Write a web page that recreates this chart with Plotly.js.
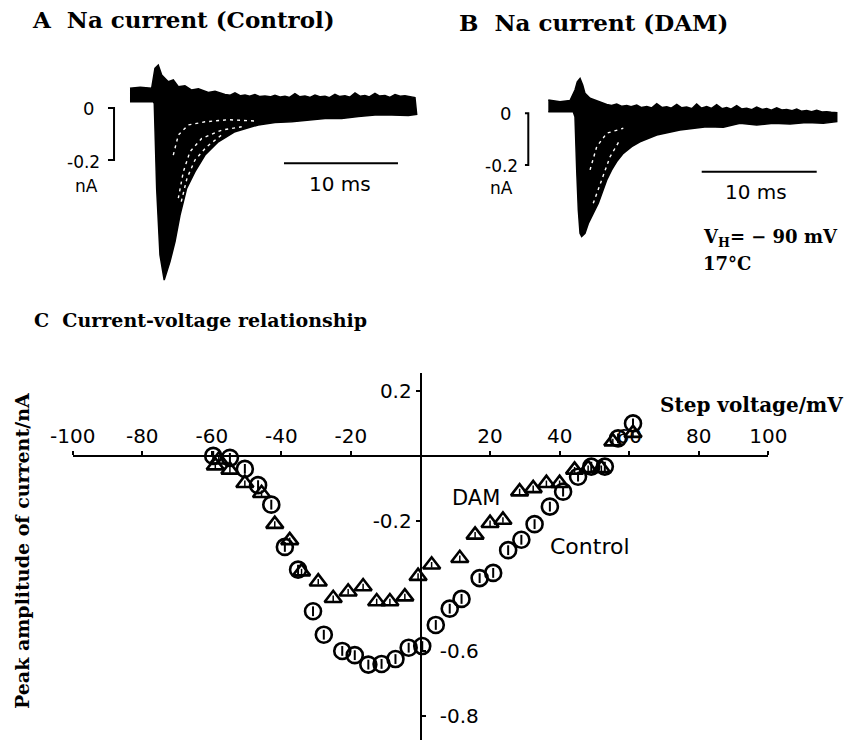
<!DOCTYPE html>
<html>
<head>
<meta charset="utf-8">
<script src="https://cdn.plot.ly/plotly-3.0.1.min.js"></script>
<style>html,body{margin:0;padding:0;background:#fff;}#chart{width:860px;height:740px;}</style>
</head>
<body>
<div id="chart"></div>
<script>
// ---------- Panel A: Na current (Control) — envelope of the trace family (t in ms, I in nA)
const ctrlTopT = [0, 0.9, 1.9, 2.19, 2.48, 2.78, 3.36, 3.80, 4.24, 4.82, 5.41, 6.0, 6.87, 7.46, 8.33, 8.8, 9.21, 9.7, 10.09, 10.5, 10.96, 11.4, 11.84, 12.3, 12.72, 13.2, 13.60, 14.0, 14.47, 14.9, 15.35, 15.8, 16.23, 16.7, 17.11, 17.5, 17.98, 18.4, 18.86, 19.3, 19.74, 20.2, 20.61, 21.0, 21.49, 21.9, 22.37, 22.8, 23.25, 23.7, 24.12, 24.6, 25.0];
const ctrlTopI = [0.076, 0.080, 0.076, 0.153, 0.165, 0.127, 0.101, 0.108, 0.082, 0.086, 0.069, 0.074, 0.060, 0.064, 0.052, 0.049, 0.058, 0.047, 0.050, 0.045, 0.052, 0.044, 0.046, 0.043, 0.049, 0.042, 0.045, 0.041, 0.055, 0.043, 0.046, 0.041, 0.050, 0.043, 0.045, 0.040, 0.053, 0.044, 0.047, 0.042, 0.058, 0.045, 0.048, 0.043, 0.056, 0.046, 0.048, 0.041, 0.052, 0.045, 0.047, 0.042, 0.040];
const ctrlBotT = [0, 2.04, 2.13, 2.34, 2.63, 3.0, 3.51, 3.95, 4.39, 4.97, 5.70, 6.58, 7.75, 9.21, 11.25, 12.72, 14.18, 15.64, 17.11, 18.57, 20.03, 21.49, 22.96, 24.42, 25.15];
const ctrlBotI = [0.024, 0.024, 0.018, -0.309, -0.565, -0.662, -0.591, -0.514, -0.412, -0.309, -0.245, -0.181, -0.130, -0.091, -0.065, -0.056, -0.053, -0.047, -0.040, -0.040, -0.033, -0.027, -0.027, -0.029, -0.024];
// white gaps between individual traces
const ctrlGap1T = [4.24, 4.68, 5.26, 6.29, 8.04, 9.80];
const ctrlGap1I = [-0.347, -0.245, -0.168, -0.117, -0.085, -0.072];
const ctrlGap2T = [3.80, 4.24, 5.11, 6.58, 8.62, 11.0];
const ctrlGap2I = [-0.181, -0.104, -0.065, -0.053, -0.045, -0.050];
const ctrlGap3T = [4.5, 5.0, 5.7, 6.7, 8.0];
const ctrlGap3I = [-0.36, -0.27, -0.2, -0.15, -0.105];

// ---------- Panel B: Na current (DAM)
const damTopT = [0, 1.02, 1.89, 2.32, 2.52, 2.76, 2.99, 3.19, 3.63, 4.35, 5.08, 5.5, 5.95, 6.4, 6.82, 7.2, 7.69, 8.1, 8.56, 9.0, 9.43, 9.9, 10.30, 10.7, 11.17, 11.6, 12.03, 12.5, 12.90, 13.3, 13.77, 14.2, 14.64, 15.1, 15.51, 15.9, 16.38, 16.8, 17.25, 17.7, 18.12, 18.6, 18.99, 19.4, 19.86, 20.3, 20.73, 21.2, 21.60, 22.0, 22.47, 22.9, 23.34, 23.8, 24.21, 24.6, 25.08];
const damTopI = [0.051, 0.045, 0.049, 0.090, 0.122, 0.135, 0.109, 0.077, 0.058, 0.045, 0.034, 0.030, 0.036, 0.027, 0.030, 0.025, 0.032, 0.022, 0.026, 0.021, 0.037, 0.022, 0.025, 0.020, 0.034, 0.021, 0.024, 0.018, 0.036, 0.020, 0.026, 0.019, 0.033, 0.018, 0.022, 0.016, 0.030, 0.017, 0.019, 0.014, 0.024, 0.015, 0.018, 0.012, 0.021, 0.013, 0.015, 0.010, 0.016, 0.008, 0.011, 0.006, 0.012, 0.005, 0.006, 0.004, 0.002];
const damBotT = [0, 2.17, 2.32, 2.47, 2.61, 2.76, 2.90, 3.19, 3.48, 3.91, 4.35, 4.64, 5.08, 5.51, 5.95, 6.52, 7.25, 7.97, 9.43, 11.45, 13.77, 15.22, 16.67, 18.12, 19.57, 21.02, 22.47, 23.91, 25.08];
const damBotI = [0.006, 0.006, -0.013, -0.219, -0.374, -0.464, -0.477, -0.464, -0.426, -0.387, -0.348, -0.309, -0.258, -0.219, -0.187, -0.155, -0.129, -0.110, -0.084, -0.065, -0.052, -0.054, -0.039, -0.045, -0.039, -0.041, -0.036, -0.039, -0.032];
const damGap1T = [3.63, 4.21, 5.08, 6.52];
const damGap1I = [-0.219, -0.129, -0.077, -0.058];
const damGap2T = [3.91, 4.64, 5.37, 6.23];
const damGap2I = [-0.348, -0.258, -0.168, -0.103];

// scale bars (ms, nA)
const barA_vT = [-1.93, -1.40, -1.40, -1.93], barA_vI = [0, 0, -0.2, -0.2];
const barA_hT = [13.51, 23.51], barA_hI = [-0.212, -0.212];
const barB_vT = [-2.03, -1.74, -1.74, -2.03], barB_vI = [0, 0, -0.2, -0.2];
const barB_hT = [13.34, 23.34], barB_hI = [-0.226, -0.226];

// ---------- Panel C: current-voltage relationship (mV, nA)
const ctrlV = [-59.6, -54.8, -50.5, -46.7, -42.9, -39, -35.2, -30.9, -27.8, -22.5, -18.9, -15, -11.2, -7.2, -3.4, 0.5, 4.4, 8.4, 11.8, 17, 20.9, 25.2, 29, 32.8, 37.2, 41, 45.3, 49.1, 53, 56.8, 61.1];
const ctrlI = [0, -0.006, -0.04, -0.09, -0.15, -0.28, -0.35, -0.478, -0.55, -0.60, -0.613, -0.642, -0.64, -0.625, -0.59, -0.585, -0.52, -0.47, -0.44, -0.376, -0.36, -0.29, -0.258, -0.21, -0.156, -0.11, -0.064, -0.033, -0.033, 0.054, 0.10];
const damV = [-59, -58, -54.8, -50.5, -45.7, -41.9, -37.6, -34.2, -29.4, -25.1, -20.8, -16.5, -12.6, -8.8, -4.5, -0.7, 3.2, 11.3, 15.7, 20, 23.7, 28.5, 32.4, 36.2, 40, 44.3, 48.2, 52, 55.3, 61.1];
const damI = [-0.03, -0.012, -0.043, -0.084, -0.115, -0.21, -0.26, -0.356, -0.387, -0.438, -0.418, -0.402, -0.448, -0.448, -0.433, -0.37, -0.335, -0.315, -0.243, -0.207, -0.197, -0.11, -0.10, -0.084, -0.084, -0.043, -0.038, -0.038, 0.044, 0.07];
const xTickVals = [-100, -80, -60, -40, -20, 20, 40, 60, 80, 100];
const xTickText = ['-100', '-80', '-60', '-40', '-20', '20', '40', '60', '80', '100'];
const yTickValsL = [0.2, -0.2];
const yTickTextL = ['0.2', '-0.2'];
const yTickValsR = [-0.6, -0.8];
const yTickTextR = ['-0.6', '-0.8'];

// ---------- helpers
const W = 860, H = 740;
const PX = px => px / W, PY = py => 1 - py / H;
function envelope(tt, ti, bt, bi) {
  return { x: tt.concat(bt.slice().reverse()), y: ti.concat(bi.slice().reverse()) };
}
function fam(env, xa, ya) {
  return { type: 'scatter', mode: 'lines', x: env.x, y: env.y, xaxis: xa, yaxis: ya,
    fill: 'toself', fillcolor: '#000', line: { color: '#000', width: 1.5 }, hoverinfo: 'skip' };
}
function gap(t, i, xa, ya) {
  return { type: 'scatter', mode: 'lines', x: t, y: i, xaxis: xa, yaxis: ya,
    line: { color: '#fff', width: 1.4, dash: '3px,4px' }, hoverinfo: 'skip' };
}
function bar(t, i, xa, ya) {
  return { type: 'scatter', mode: 'lines', x: t, y: i, xaxis: xa, yaxis: ya,
    line: { color: '#000', width: 2 }, hoverinfo: 'skip' };
}

const traces = [
  fam(envelope(ctrlTopT, ctrlTopI, ctrlBotT, ctrlBotI), 'x', 'y'),
  gap(ctrlGap1T, ctrlGap1I, 'x', 'y'), gap(ctrlGap2T, ctrlGap2I, 'x', 'y'), gap(ctrlGap3T, ctrlGap3I, 'x', 'y'),
  bar(barA_vT, barA_vI, 'x', 'y'), bar(barA_hT, barA_hI, 'x', 'y'),
  fam(envelope(damTopT, damTopI, damBotT, damBotI), 'x2', 'y2'),
  gap(damGap1T, damGap1I, 'x2', 'y2'), gap(damGap2T, damGap2I, 'x2', 'y2'),
  bar(barB_vT, barB_vI, 'x2', 'y2'), bar(barB_hT, barB_hI, 'x2', 'y2'),
  // panel C
  { type: 'scatter', mode: 'markers', x: ctrlV, y: ctrlI, xaxis: 'x3', yaxis: 'y3', name: 'Control',
    marker: { symbol: 'circle-open', size: 16, color: '#000', line: { width: 2.6, color: '#000' } } },
  { type: 'scatter', mode: 'markers', x: ctrlV, y: ctrlI, xaxis: 'x3', yaxis: 'y3', hoverinfo: 'skip',
    marker: { symbol: 'line-ns-open', size: 7, color: '#000', line: { width: 2, color: '#000' } } },
  { type: 'scatter', mode: 'markers', x: damV, y: damI, xaxis: 'x3', yaxis: 'y3', name: 'DAM',
    marker: { symbol: 'triangle-up-open', size: 15, color: '#000', line: { width: 2.6, color: '#000' } } },
  { type: 'scatter', mode: 'markers', x: damV, y: damI, xaxis: 'x3', yaxis: 'y3', hoverinfo: 'skip',
    marker: { symbol: 'line-ns-open', size: 4, color: '#000', line: { width: 1.5, color: '#000' } } },
  // carrier for the right-hand tick labels of the current axis
  { type: 'scatter', mode: 'markers', x: ctrlV, y: ctrlI, xaxis: 'x3', yaxis: 'y4', hoverinfo: 'skip',
    marker: { size: 1, color: 'rgba(0,0,0,0)' } }
];

const sans = { family: 'DejaVu Sans', color: '#000' };
const serif = { family: 'DejaVu Serif', color: '#000', weight: 'bold' };
function ann(text, px, py, font, xanchor, extra) {
  return Object.assign({ text: text, x: PX(px), y: PY(py), xref: 'paper', yref: 'paper',
    showarrow: false, xanchor: xanchor || 'center', yanchor: 'middle', font: font }, extra || {});
}
const yC0 = 0.255, yC1 = -0.874;
const annotations = [
  ann('A  Na current (Control)', 30, 20, Object.assign({ size: 23 }, serif), 'left'),
  ann('B  Na current (DAM)', 457, 22, Object.assign({ size: 23 }, serif), 'left'),
  ann('C  Current-voltage relationship', 32, 320, Object.assign({ size: 19 }, serif), 'left'),
  ann('0', 96, 108, Object.assign({ size: 18 }, sans), 'right'),
  ann('-0.2', 102, 162, Object.assign({ size: 17 }, sans), 'right'),
  ann('nA', 86.7, 186, Object.assign({ size: 17 }, sans)),
  ann('10 ms', 340, 184, Object.assign({ size: 20 }, sans)),
  ann('0', 513, 113, Object.assign({ size: 18 }, sans), 'right'),
  ann('-0.2', 520, 166, Object.assign({ size: 17 }, sans), 'right'),
  ann('nA', 501.7, 188, Object.assign({ size: 17 }, sans)),
  ann('10 ms', 756, 192, Object.assign({ size: 20 }, sans)),
  ann('V<sub>H</sub>= − 90 mV', 701, 238, Object.assign({ size: 18 }, serif), 'left'),
  ann('17°C', 701, 263, Object.assign({ size: 18 }, serif), 'left'),
  ann('Step voltage/mV', 751, 405, Object.assign({ size: 20 }, serif)),
  ann('DAM', 476, 498, Object.assign({ size: 21 }, sans)),
  ann('Control', 590, 546, Object.assign({ size: 22 }, sans)),
  ann('Peak amplitude of current/nA', 22, 551, Object.assign({ size: 19 }, serif), 'center', { textangle: -90 })
];

const hidden = { visible: false, fixedrange: true, showgrid: false, zeroline: false };
const layout = {
  width: W, height: H, margin: { l: 0, r: 0, t: 0, b: 0 },
  paper_bgcolor: '#fff', plot_bgcolor: 'rgba(0,0,0,0)', showlegend: false,
  xaxis: Object.assign({ domain: [PX(60), PX(425)], range: [-6.14, 25.88], anchor: 'y' }, hidden),
  yaxis: Object.assign({ domain: [PY(290), PY(55)], range: [-0.70, 0.204], anchor: 'x' }, hidden),
  xaxis2: Object.assign({ domain: [PX(480), PX(845)], range: [-5.94, 25.8], anchor: 'y2' }, hidden),
  yaxis2: Object.assign({ domain: [PY(290), PY(55)], range: [-0.6836, 0.2255], anchor: 'x2' }, hidden),
  xaxis3: {
    domain: [PX(72.7), PX(768.3)], range: [-100, 100], anchor: 'free', position: PY(456), side: 'top',
    showline: true, linewidth: 2, linecolor: '#000', showgrid: false, zeroline: false,
    ticks: 'outside', ticklen: 4, tickwidth: 2, tickcolor: '#000',
    tickmode: 'array', tickvals: xTickVals, ticktext: xTickText, tickfont: Object.assign({ size: 20 }, sans),
    fixedrange: true
  },
  yaxis3: {
    domain: [0, PY(373)], range: [yC1, yC0], anchor: 'free', position: PX(420.7), side: 'left',
    showline: true, linewidth: 2, linecolor: '#000', showgrid: false, zeroline: false,
    ticks: 'outside', ticklen: 4, tickwidth: 2, tickcolor: '#000',
    tickmode: 'array', tickvals: yTickValsL, ticktext: yTickTextL, tickfont: Object.assign({ size: 20 }, sans),
    fixedrange: true
  },
  yaxis4: {
    overlaying: 'y3', range: [yC1, yC0], anchor: 'free', position: PX(420.7), side: 'right',
    showline: false, showgrid: false, zeroline: false,
    ticks: 'outside', ticklen: 4, tickwidth: 2, tickcolor: '#000',
    tickmode: 'array', tickvals: yTickValsR, ticktext: yTickTextR, tickfont: Object.assign({ size: 20 }, sans),
    ticklabelstandoff: 10, fixedrange: true
  },
  annotations: annotations
};

Plotly.newPlot('chart', traces, layout, { staticPlot: true, displayModeBar: false });
</script>
</body>
</html>
